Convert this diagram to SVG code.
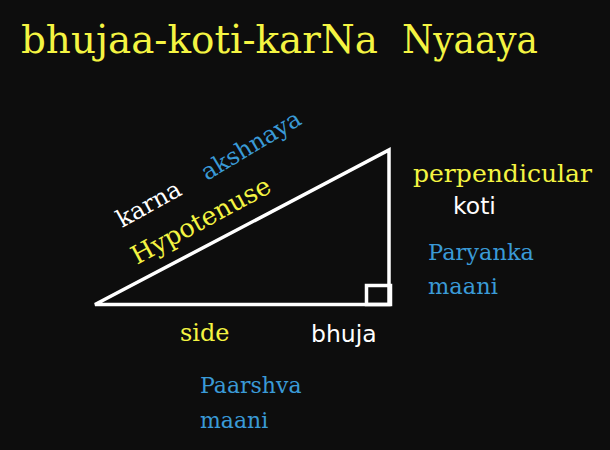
<svg xmlns="http://www.w3.org/2000/svg" width="610" height="450" viewBox="0 0 610 450">
<style>
.serif{font-family:"DejaVu Serif","Liberation Serif",serif}
.sans{font-family:"DejaVu Sans","Liberation Sans",sans-serif}
.y{fill:#f4f442}
.w{fill:#ffffff}
.b{fill:#3a9ad6}
.line{fill:none;stroke:#ffffff;stroke-width:3.5;stroke-linejoin:miter}
</style>
<rect x="0" y="0" width="610" height="450" fill="#0d0d0d"/>
<g id="title">
<text class="serif y" font-size="40" y="53"><tspan x="21" textLength="357" lengthAdjust="spacingAndGlyphs">bhujaa-koti-karNa</tspan><tspan x="402" textLength="136" lengthAdjust="spacingAndGlyphs">Nyaaya</tspan></text>
</g>
<g id="triangle">
<path class="line" d="M95,304.5 L389,150 L389,304.5 Z"/>
<rect class="line" x="366.5" y="285.5" width="24" height="19"/>
</g>
<g id="labels">
<text class="serif w" font-size="24" transform="translate(122,228) rotate(-29)">karna</text>
<text class="serif y" font-size="25.5" transform="translate(137,265) rotate(-28.5)">Hypotenuse</text>
<text class="serif b" font-size="23.5" transform="translate(207,181) rotate(-31)">akshnaya</text>
<text class="serif y" font-size="25" x="413" y="182" textLength="179" lengthAdjust="spacingAndGlyphs">perpendicular</text>
<text class="sans w" font-size="23.5" x="453" y="214">koti</text>
<text class="serif b" font-size="22.5" x="428" y="260">Paryanka</text>
<text class="serif b" font-size="22.5" x="428" y="294">maani</text>
<text class="serif y" font-size="24" x="180" y="341">side</text>
<text class="sans w" font-size="23.5" x="311" y="342">bhuja</text>
<text class="serif b" font-size="22" x="200" y="393">Paarshva</text>
<text class="serif b" font-size="22" x="200" y="428">maani</text>
</g>
</svg>
